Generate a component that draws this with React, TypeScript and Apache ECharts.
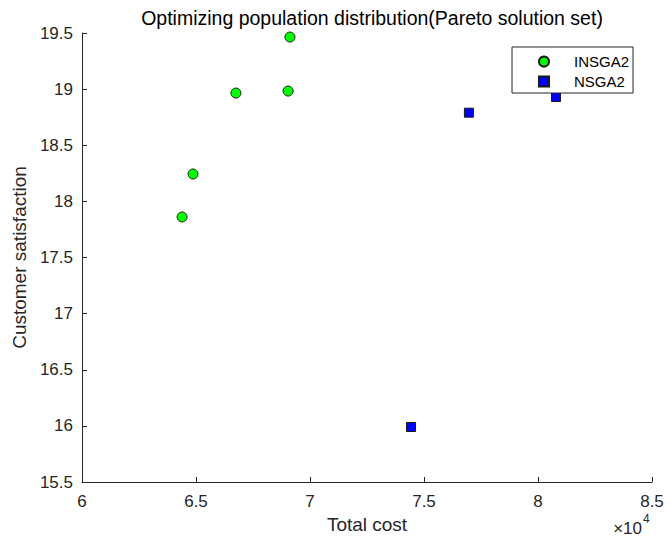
import React, { useEffect, useRef } from "react";
import * as echarts from "echarts";

const insga2Cost = [69120, 66750, 69040, 64870, 64390];
const insga2Sat = [19.464, 18.965, 18.983, 18.244, 17.861];
const nsga2Cost = [74430, 76970, 80790];
const nsga2Sat = [15.99, 18.79, 18.93];

const titleText = "Optimizing population distribution(Pareto solution set)";
const xName = "Total cost";
const yName = "Customer satisfaction";
const seriesNames = ["INSGA2", "NSGA2"];

const FONT = "Liberation Sans, Arial, Helvetica, sans-serif";
const AX = "#262626";

export default function App() {
  const ref = useRef<HTMLDivElement>(null);
  useEffect(() => {
    if (!ref.current) return;
    document.body.style.margin = "0";
    const chart = echarts.init(ref.current, undefined, { renderer: "svg" });
    const d1 = insga2Cost.map((c, i) => [c, insga2Sat[i]]);
    const d2 = nsga2Cost.map((c, i) => [c, nsga2Sat[i]]);
    chart.setOption({
      animation: false,
      backgroundColor: "#ffffff",
      textStyle: { fontFamily: FONT },
      title: {
        text: titleText,
        left: 367,
        top: 3,
        textAlign: "center",
        textStyle: { fontSize: 19.5, fontWeight: "normal", color: "#000", fontFamily: FONT },
      },
      grid: { left: 82, right: 17, top: 33, bottom: 58, containLabel: false },
      legend: {
        data: seriesNames,
        orient: "vertical",
        left: 512,
        top: 47,
        itemWidth: 10,
        itemHeight: 10,
        itemGap: 5,
        padding: [7, 4, 4, 26],
        borderColor: AX,
        borderWidth: 1,
        backgroundColor: "#fff",
        borderRadius: 0,
        textStyle: { fontSize: 15, color: "#000", fontFamily: FONT, padding: [0, 0, 0, 20] },
      },
      xAxis: {
        type: "value",
        min: 60000,
        max: 85000,
        interval: 5000,
        name: xName,
        nameLocation: "middle",
        nameGap: 33,
        nameTextStyle: { fontSize: 19, color: AX, fontFamily: FONT },
        axisLine: { show: true, lineStyle: { color: AX, width: 1 } },
        axisTick: { show: true, inside: true, length: 5, lineStyle: { color: AX } },
        axisLabel: {
          fontSize: 17,
          color: AX,
          margin: 11,
          fontFamily: FONT,
          formatter: (v: number) => String(v / 10000),
        },
        splitLine: { show: false },
      },
      yAxis: {
        type: "value",
        min: 15.5,
        max: 19.5,
        interval: 0.5,
        name: yName,
        nameLocation: "middle",
        nameGap: 45,
        nameRotate: 90,
        nameTextStyle: { fontSize: 19, color: AX, fontFamily: FONT },
        axisLine: { show: true, lineStyle: { color: AX, width: 1 } },
        axisTick: { show: true, inside: true, length: 5, lineStyle: { color: AX } },
        axisLabel: { fontSize: 17, color: AX, margin: 9, fontFamily: FONT },
        splitLine: { show: false },
      },
      series: [
        {
          name: seriesNames[0],
          type: "scatter",
          data: d1,
          symbol: "circle",
          symbolSize: 10,
          itemStyle: { color: "#00ff00", borderColor: "#1a1a1a", borderWidth: 1, opacity: 1 },
        },
        {
          name: seriesNames[1],
          type: "scatter",
          data: d2,
          symbol: "square",
          symbolSize: 9,
          itemStyle: { color: "#0000ff", borderColor: "#1a1a1a", borderWidth: 1, opacity: 1 },
        },
      ],
      graphic: [
        {
          type: "text",
          x: 642,
          y: 528,
          style: {
            text: "×10",
            fontSize: 17,
            fontFamily: FONT,
            fill: AX,
            align: "right",
            verticalAlign: "middle",
          },
        },
        {
          type: "text",
          x: 643,
          y: 519,
          style: {
            text: "4",
            fontSize: 12,
            fontFamily: FONT,
            fill: AX,
            align: "left",
            verticalAlign: "middle",
          },
        },
      ],
    });
    return () => chart.dispose();
  }, []);
  return <div ref={ref} style={{ width: 669, height: 540 }} />;
}
